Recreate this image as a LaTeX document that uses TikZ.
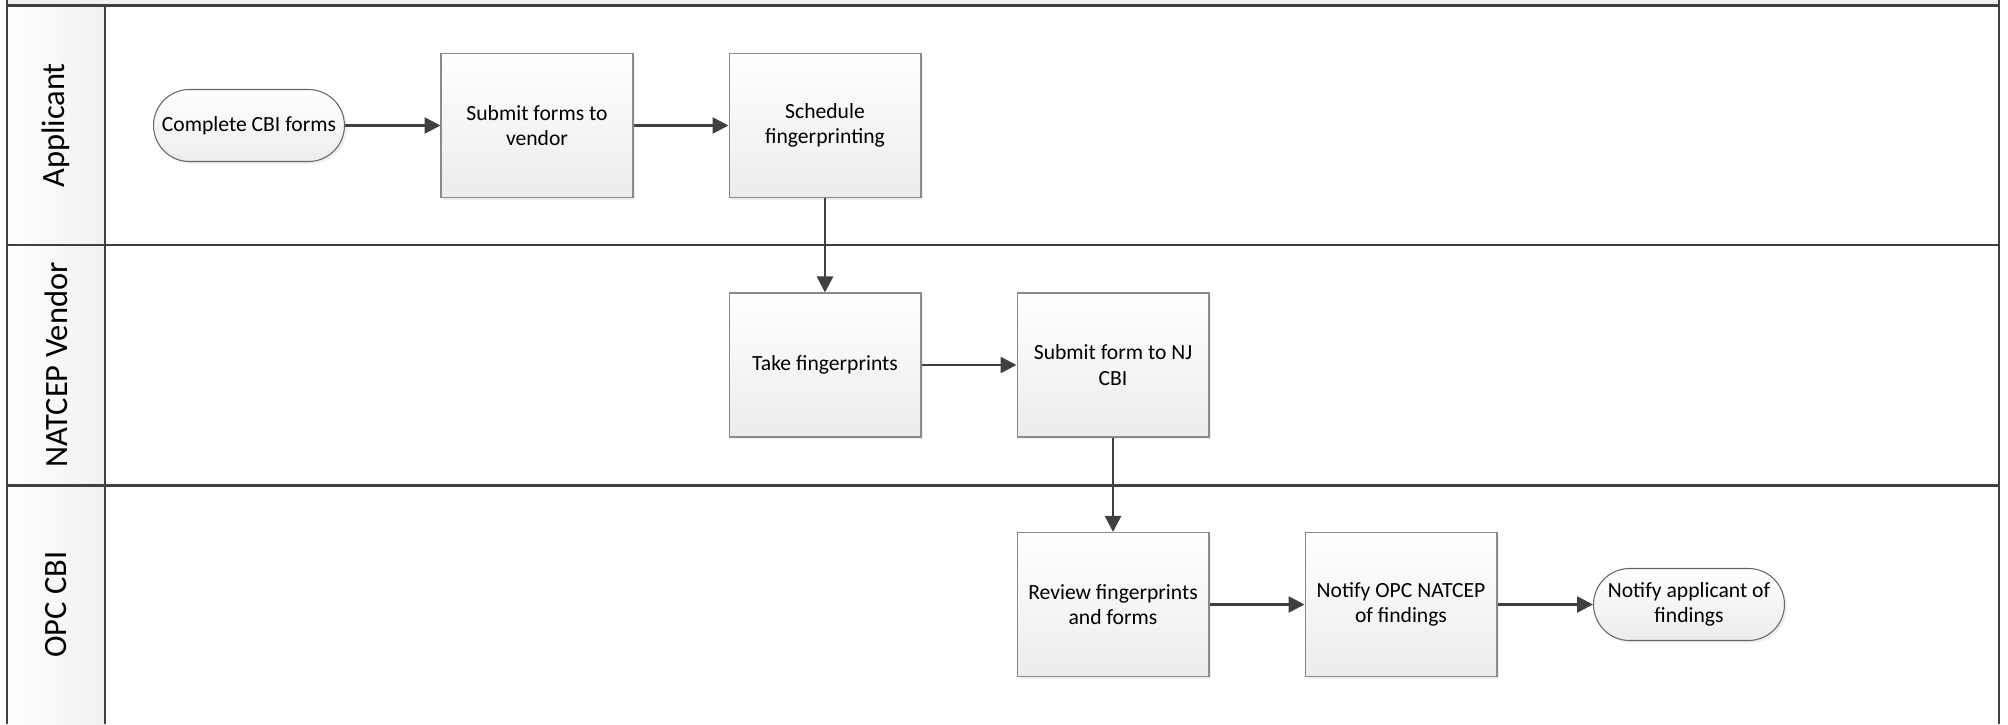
\documentclass[tikz,border=0pt]{standalone}
\usepackage{fontspec}
\setmainfont{Carlito}
\usetikzlibrary{arrows.meta,positioning,shadows}
\definecolor{laneline}{HTML}{404040}
\definecolor{boxline}{HTML}{8A8A8A}
\definecolor{boxshade}{HTML}{ECECEC}
\definecolor{headgray}{HTML}{F0F0F0}

\begin{document}
\begin{tikzpicture}[x=0.02cm, y=-0.02cm,
    lane/.style={draw=laneline, line width=1.4pt},
    lanelabel/.style={rotate=90, font=\fontsize{18.5}{22}\selectfont, text=black},
    process/.style={draw=boxline, line width=0.6pt, top color=white, bottom color=boxshade, minimum width=3.84cm, minimum height=2.88cm, align=center, font=\fontsize{12.3}{14.5}\selectfont, drop shadow={shadow xshift=0.05cm, shadow yshift=-0.05cm, fill=black!12}},
    terminal/.style={rounded corners=0.72cm, draw=laneline!80, line width=0.6pt, top color=white, bottom color=boxshade, minimum width=3.82cm, minimum height=1.44cm, inner xsep=2pt, align=center, font=\fontsize{12.3}{14.5}\selectfont, drop shadow={shadow xshift=0.05cm, shadow yshift=-0.05cm, fill=black!12}},
    flow/.style={-{Triangle[length=0.32cm, width=0.32cm]}, draw=laneline, line width=1.5pt}
]
\useasboundingbox (0,0) rectangle (2008,724);

% Pool and lanes
\fill[headgray] (7,0) rectangle (1999,5.5);
\shade[left color=white, right color=headgray] (7,5.5) rectangle (105,724);
\draw[lane] (1999,0) -- (1999,724);
\draw[lane] (7,0) -- (7,724);
\draw[lane] (105,5.5) -- (105,724);
\draw[lane] (7,5.5) -- (1999,5.5);
\draw[lane] (7,245) -- (1999,245);
\draw[lane] (7,485.5) -- (1999,485.5);

\node[lanelabel] (applicant) at (56,125.5) {Applicant};
\node[lanelabel] (vendor) at (56,365) {NATCEP Vendor};
\node[lanelabel] (opccbi) at (56,604.5) {OPC CBI};

% Steps
\node[terminal] (complete) at (249,125.5) {Complete CBI forms};
\node[process] (submit) at (537,125.5) {Submit forms to\\vendor};
\node[process] (schedule) at (825,125.5) {Schedule\\fingerprinting};

\node[process] (take) at (825,365) {Take fingerprints};
\node[process] (njcbi) at (1113,365) {Submit form to NJ\\CBI};

\node[process] (review) at (1113,604.5) {Review fingerprints\\and forms};
\node[process] (notifyopc) at (1401,604.5) {Notify OPC NATCEP\\of findings};
\node[terminal] (notifyapp) at (1689,604.5) {Notify applicant of\\findings};

% Flow
\draw[flow] (complete) -- (submit);
\draw[flow] (submit) -- (schedule);
\draw[flow] (schedule) -- (take);
\draw[flow] (take) -- (njcbi);
\draw[flow] (njcbi) -- (review);
\draw[flow] (review) -- (notifyopc);
\draw[flow] (notifyopc) -- (notifyapp);

\end{tikzpicture}
\end{document}
